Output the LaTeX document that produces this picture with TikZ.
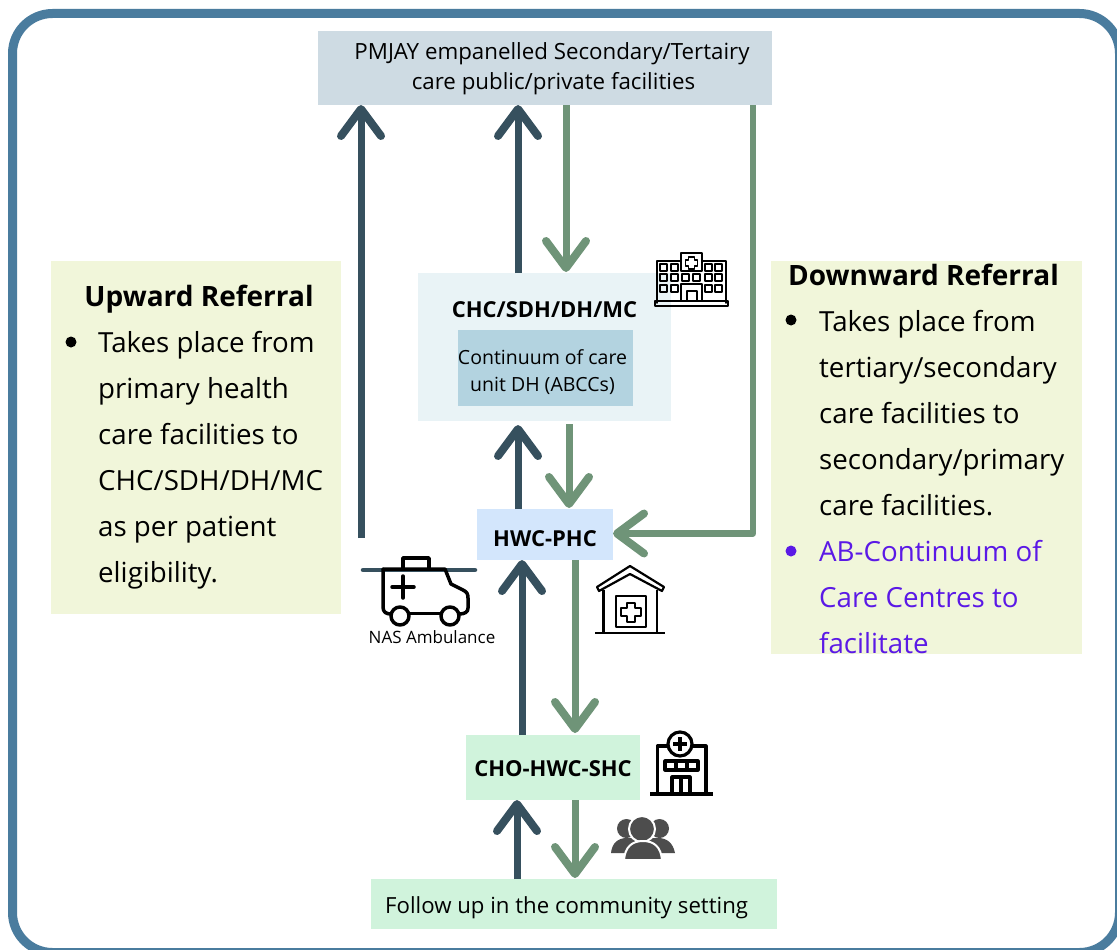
\documentclass[tikz,border=0pt]{standalone}
\usepackage{fontspec}
\setmainfont{Open Sans}
\usetikzlibrary{arrows.meta,calc}
\definecolor{frameblue}{HTML}{4A7C9E}
\definecolor{upcol}{HTML}{36505E}
\definecolor{downcol}{HTML}{6F9478}
\definecolor{topbox}{HTML}{CEDBE3}
\definecolor{chcbox}{HTML}{E9F3F6}
\definecolor{ccbox}{HTML}{B3D3E0}
\definecolor{hwcbox}{HTML}{D3E6FC}
\definecolor{greenbox}{HTML}{D0F3DC}
\definecolor{notebox}{HTML}{F1F6DA}
\definecolor{purple1}{HTML}{5B19E6}
\definecolor{icongrey}{HTML}{4D4D4D}
\tikzset{
  boxn/.style={inner sep=0pt,outer sep=0pt,anchor=north west,align=center},
  upar/.style={draw=upcol,line width=7pt,-{Straight Barb[length=27pt,width=40pt,line width=8pt,round]}},
  dnar/.style={draw=downcol,line width=7pt,-{Straight Barb[length=27pt,width=40pt,line width=8pt,round]}},
  icon/.style={draw=black,line width=2.2pt,line join=round,line cap=round},
  bodytxt/.style={font=\fontsize{27.7}{46}\selectfont,align=left,anchor=north west,inner sep=0pt},
}
\begin{document}
\begin{tikzpicture}[x=1pt,y=-1pt]
\useasboundingbox (0,0) rectangle (1117,950);
\fill[white] (0,0) rectangle (1117,950);
\begin{scope}
\clip (0,0) rectangle (1117,950);
\draw[frameblue,line width=9pt,rounded corners=40pt] (12.5,13.5) rectangle (1119.5,952.5);
\end{scope}
% boxes
\node[boxn,fill=topbox,minimum width=454pt,minimum height=74pt] (top) at (318,31) {};
\node[font=\fontsize{22.3}{30}\selectfont,align=center] (toptxt) at (553.5,69) {\hspace*{-3pt}PMJAY empanelled Secondary/Tertairy\\care public/private facilities};
\node[boxn,fill=chcbox,minimum width=253pt,minimum height=148pt] (chc) at (418,273) {};
\node[font=\fontsize{22}{27}\bfseries\selectfont] (chctxt) at (544.5,310) {CHC/SDH/DH/MC};
\node[boxn,fill=ccbox,minimum width=175pt,minimum height=76pt] (cc) at (458,330) {};
\node[font=\fontsize{19.5}{27}\selectfont,align=center] (cctxt) at (542.5,372) {Continuum of care\\unit DH (ABCCs)};
\node[boxn,fill=hwcbox,minimum width=136pt,minimum height=51pt] (hwc) at (477,509) {};
\node[font=\fontsize{22}{27}\bfseries\selectfont] (hwctxt) at (545,539) {HWC-PHC};
\node[boxn,fill=greenbox,minimum width=174pt,minimum height=65pt] (cho) at (466,735) {};
\node[font=\fontsize{22}{27}\bfseries\selectfont] (chotxt) at (553,769) {CHO-HWC-SHC};
\node[boxn,fill=greenbox,minimum width=406pt,minimum height=50pt] (fu) at (371,879) {};
\node[font=\fontsize{22.2}{27}\selectfont,anchor=west,inner sep=0pt] (futxt) at (385,908) {Follow up in the community setting};
% note boxes
\node[boxn,fill=notebox,minimum width=290pt,minimum height=353pt] (upn) at (51,261) {};
\node[font=\fontsize{28}{32}\bfseries\selectfont] (uph) at (199,299) {Upward Referral};
\node[bodytxt] (upb) at (98,331) {Takes place from\\primary health\\care facilities to\\CHC/SDH/DH/MC\\as per patient\\eligibility.};
\node[circle,fill=black,inner sep=0pt,minimum size=11pt] (upd) at (71,342) {};
\node[boxn,fill=notebox,minimum width=311pt,minimum height=393pt] (dnn) at (771,261) {};
\node[font=\fontsize{28}{32}\bfseries\selectfont] (dnh) at (923.5,275) {Downward Referral};
\node[bodytxt] (dnb) at (819,310) {Takes place from\\tertiary/secondary\\care facilities to\\secondary/primary\\care facilities.\\\textcolor{purple1}{AB-Continuum of}\\\textcolor{purple1}{Care Centres to}\\\textcolor{purple1}{facilitate}};
\node[circle,fill=black,inner sep=0pt,minimum size=11pt] (dnd) at (791,320) {};
\node[circle,fill=purple1,inner sep=0pt,minimum size=11pt] (dnd2) at (791,551) {};
\node[font=\fontsize{17}{20}\selectfont] (nas) at (432,637) {NAS Ambulance};
% connector ends
\coordinate (u1s) at (361,538);
\coordinate (u1e) at (361,105);
\coordinate (u2s) at (518,273);
\coordinate (u2e) at (518,105);
\coordinate (d1s) at (566,105);
\coordinate (d1e) at (566,272);
\coordinate (u3s) at (518,509);
\coordinate (u3e) at (518,425);
\coordinate (d2s) at (569,424);
\coordinate (d2e) at (569,508);
\coordinate (u4s) at (522,735);
\coordinate (u4e) at (522,560);
\coordinate (d3s) at (575,560);
\coordinate (d3e) at (575,733);
\coordinate (u5s) at (517,879);
\coordinate (u5e) at (517,800);
\coordinate (d4s) at (575,800);
\coordinate (d4e) at (575,878);
\coordinate (d5s) at (753,105);
\coordinate (d5c) at (753,533.5);
\coordinate (d5e) at (613,533.5);
\draw[upar] (u1s) -- (u1e);
\draw[upar] (u2s) -- (u2e);
\draw[dnar] (d1s) -- (d1e);
\draw[upar] (u3s) -- (u3e);
\draw[dnar] (d2s) -- (d2e);
\draw[upar] (u4s) -- (u4e);
\draw[dnar] (d3s) -- (d3e);
\draw[upar] (u5s) -- (u5e);
\draw[dnar] (d4s) -- (d4e);
\draw[dnar,line width=6.2pt,line join=round] (d5s) -- (d5c) -- (d5e);
% ambulance
\draw[upcol,line width=4.5pt,line cap=round] (363,570) -- (475,570);
\begin{scope}[line width=3.5pt,line join=round,line cap=round]
\draw (403,569) -- (403,558) -- (429,558) -- (429,569);
\draw (383,569) -- (445,569) -- (451,584) -- (463,590) .. controls (467,592) and (468,594) .. (468,598) -- (468,608) .. controls (468,612) and (465,614) .. (459,614);
\draw (383,569) -- (383,607) .. controls (383,612) and (386,614) .. (391,614);
\draw (410,613.5) -- (440,613.5);
\draw (400,616) circle (9);
\draw (450,616) circle (9);
\draw (392,587) -- (414,587) (403,576) -- (403,598);
\end{scope}
% hospital
\begin{scope}[icon,line width=1.7pt]
\draw (657,303) -- (657,261) -- (681,261) (702,261) -- (726,261) -- (726,303);
\draw (681,271) -- (681,253) -- (702,253) -- (702,271) -- cycle;
\draw (688.5,257) -- (694.5,257) -- (694.5,260) -- (697.5,260) -- (697.5,266) -- (694.5,266) -- (694.5,269) -- (688.5,269) -- (688.5,266) -- (685.5,266) -- (685.5,260) -- (688.5,260) -- cycle;
\draw (655,301) rectangle (728,306);
\draw (681,301) -- (681,284) -- (702,284) -- (702,301);
\draw (687,301) -- (687,291) -- (697,291) -- (697,301);
\foreach \cx in {660,671,705,715}{
  \foreach \cy in {264,274,285}{
    \draw (\cx,\cy) rectangle ++(7,7);
  }
}
\foreach \cx in {682,693}{
  \draw (\cx,274) rectangle ++(7,7);
}
\end{scope}
% house
\begin{scope}[icon,line width=2.2pt,line cap=butt]
\draw (630,566) -- (664,587) -- (662,591) -- (630,574) -- (599,591) -- (597,587) -- cycle;
\draw (603.5,590) -- (603.5,633) (657,590) -- (657,633);
\draw (595,633) -- (665,633);
\draw (616,596) rectangle (646,627);
\draw (627,603) -- (635,603) -- (635,608) -- (641,608) -- (641,616) -- (635,616) -- (635,622) -- (627,622) -- (627,616) -- (621,616) -- (621,608) -- (627,608) -- cycle;
\end{scope}
% building
\begin{scope}[icon,line width=3.2pt,line cap=butt]
\draw (657.5,794) -- (657.5,746) -- (668,746) (692,746) -- (706,746) -- (706,794);
\draw (680,744) circle (12);
\draw (680,737) -- (680,751) (673,744) -- (687,744);
\draw (650,794) -- (713,794);
\draw (665,761) rectangle (698,770);
\draw (676,761) -- (676,770) (687,761) -- (687,770);
\draw (672,794) -- (672,777) -- (690,777) -- (690,794) (681,777) -- (681,794);
\end{scope}
% people
\fill[icongrey] (626.5,828.5) circle (9.5);
\fill[icongrey] (659.5,828.5) circle (9.5);
\fill[icongrey] (611,853) .. controls (612,843) and (618,838) .. (627,838) -- (658,838) .. controls (667,838) and (673,843) .. (675,853) -- cycle;
\draw[white,line width=2pt,fill=icongrey] (642,829) circle (13);
\draw[white,line width=2pt,fill=icongrey] (624,860) .. controls (625,847) and (632,841) .. (643,841) .. controls (654,841) and (661,847) .. (662,860) -- cycle;
\end{tikzpicture}
\end{document}
